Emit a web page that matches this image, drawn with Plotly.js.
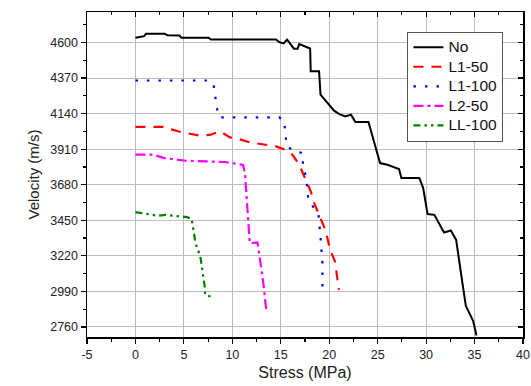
<!DOCTYPE html>
<html>
<head>
<meta charset="utf-8">
<script src="https://cdn.plot.ly/plotly-3.0.1.min.js"></script>
<style>html,body{margin:0;padding:0;background:#fff;}#chart{width:531px;height:386px;}</style>
</head>
<body>
<div id="chart"></div>
<script>
const seriesNames = ["No", "L1-50", "L1-100", "L2-50", "LL-100"];

const noX = [0, 0.9, 1.1, 3.0, 3.3, 4.55, 4.75, 7.55, 7.8, 14.5, 14.85, 15.3, 15.65, 16.35, 16.75, 16.9, 18.03, 18.09, 18.95, 19.1, 20.5, 21.0, 21.65, 22.25, 22.7, 24.05, 24.9, 25.25, 26.0, 27.2, 27.45, 29.3, 29.7, 30.15, 30.85, 31.85, 32.55, 33.1, 33.75, 34.1, 34.85, 35.2];
const noY = [4630, 4641, 4657, 4657, 4647, 4645, 4630, 4630, 4619, 4619, 4602, 4594, 4619, 4560, 4560, 4590, 4561, 4414, 4414, 4263, 4159, 4138, 4122, 4133, 4086, 4086, 3896, 3820, 3809, 3781, 3723, 3723, 3658, 3490, 3485, 3371, 3384, 3323, 3043, 2896, 2800, 2705];

const l150X = [0, 2.8, 3.8, 4.8, 6.7, 7.7, 8.75, 9.75, 10.6, 11.8, 14.5, 15.7, 16.2, 16.9, 18.1, 18.45, 19.6, 20.1, 20.6, 21.0];
const l150Y = [4054, 4054, 4036, 4019, 3997, 4002, 4025, 3986, 3976, 3954, 3928, 3900, 3874, 3809, 3636, 3561, 3388, 3259, 3183, 3000];

const l1100X = [0, 7.4, 8.05, 8.4, 8.65, 14.85, 15.35, 15.6, 16.2, 17.25, 17.3, 17.6, 17.85, 18.9, 19.1, 19.3, 19.3];
const l1100Y = [4354, 4354, 4334, 4177, 4116, 4116, 4090, 3933, 3902, 3885, 3798, 3734, 3583, 3485, 3345, 3172, 3015];

const l250X = [0, 1.8, 3.0, 5.2, 9.25, 11.1, 11.3, 11.6, 11.8, 12.6, 12.85, 13.2, 13.5];
const l250Y = [3875, 3875, 3852, 3835, 3827, 3808, 3756, 3474, 3302, 3306, 3194, 3043, 2870];

const ll100X = [0, 0.75, 1.45, 2.3, 3.1, 3.8, 5.35, 5.8, 5.95, 6.2, 6.7, 6.95, 7.15, 7.2, 8.05];
const ll100Y = [3503, 3496, 3485, 3479, 3485, 3481, 3470, 3458, 3399, 3302, 3215, 3108, 3021, 2967, 2952];

const xTickVals = [-5, 0, 5, 10, 15, 20, 25, 30, 35, 40];
const yTickVals = [2760, 2990, 3220, 3450, 3680, 3910, 4140, 4370, 4600];

const font = "Arial, 'Liberation Sans', sans-serif";
const legendName = n => '<span style="font-size:15.5px">' + n + '</span>';

const traces = [
  {x: noX, y: noY, name: legendName(seriesNames[0]), mode: 'lines', line: {color: '#000000', width: 2}},
  {x: l150X, y: l150Y, name: legendName(seriesNames[1]), mode: 'lines', line: {color: '#ff0000', width: 2.2, dash: '10px,8px'}},
  {x: l1100X, y: l1100Y, name: legendName(seriesNames[2]), mode: 'lines', line: {color: '#0000ff', width: 2.2, dash: '2.5px,9px'}},
  {x: l250X, y: l250Y, name: legendName(seriesNames[3]), mode: 'lines', line: {color: '#ff00ff', width: 2.2, dash: '10px,4px,3px,4px'}},
  {x: ll100X, y: ll100Y, name: legendName(seriesNames[4]), mode: 'lines', line: {color: '#008000', width: 2.2, dash: '7px,4px,2.5px,4px,2.5px,4px'}},
  {x: [null], y: [null], xaxis: 'x2', yaxis: 'y2', showlegend: false, hoverinfo: 'skip', mode: 'lines'}
];

const layout = {
  width: 531, height: 386,
  margin: {l: 87, r: 8, t: 12, b: 49},
  paper_bgcolor: '#ffffff', plot_bgcolor: '#ffffff',
  font: {family: font, size: 12, color: '#222'},
  showlegend: true,
  legend: {
    x: 0.735, y: 0.94, xanchor: 'left', yanchor: 'top',
    bordercolor: '#555', borderwidth: 1, bgcolor: '#ffffff',
    font: {family: font, size: 12.7, color: '#111'},
    tracegroupgap: 0, itemwidth: 30
  },
  xaxis: {
    range: [-5, 40], tickvals: xTickVals, ticktext: xTickVals.map(String),
    ticks: 'outside', ticklen: 5, tickwidth: 1.2, tickcolor: '#000', ticklabeloverflow: 'allow',
    minor: {dtick: 2.5, tick0: 0, ticks: 'outside', ticklen: 3, tickcolor: '#000', showgrid: false},
    showline: true, linecolor: '#000', linewidth: 1.5, mirror: true,
    showgrid: true, gridcolor: '#bdbdbd', gridwidth: 1, zeroline: false,
    tickfont: {family: font, size: 12.5, color: '#222'},
    title: {text: 'Stress (MPa)', font: {family: font, size: 16, color: '#222'}, standoff: 6}
  },
  yaxis: {
    range: [2695, 4797], tickvals: yTickVals, ticktext: yTickVals.map(String),
    ticks: 'outside', ticklen: 5, tickwidth: 1.2, tickcolor: '#000',
    minor: {dtick: 115, tick0: 2760, ticks: 'outside', ticklen: 3, tickcolor: '#000', showgrid: false},
    showline: true, linecolor: '#000', linewidth: 1.5, mirror: true,
    showgrid: true, gridcolor: '#bdbdbd', gridwidth: 1, zeroline: false,
    tickfont: {family: font, size: 12.5, color: '#222'},
    title: {text: 'Velocity (m/s)', font: {family: font, size: 15, color: '#222'}, standoff: 7}
  },
  xaxis2: {
    overlaying: 'x', side: 'top', anchor: 'y', range: [-5, 40], tickvals: xTickVals,
    ticks: 'inside', ticklen: 5, tickwidth: 1.2, tickcolor: '#000', showticklabels: false,
    minor: {dtick: 2.5, tick0: 0, ticks: 'inside', ticklen: 3, tickcolor: '#000', showgrid: false},
    showgrid: false, zeroline: false, showline: false
  },
  yaxis2: {
    overlaying: 'y', side: 'right', anchor: 'x', range: [2695, 4797], tickvals: yTickVals,
    ticks: 'inside', ticklen: 5, tickwidth: 1.2, tickcolor: '#000', showticklabels: false,
    minor: {dtick: 115, tick0: 2760, ticks: 'inside', ticklen: 3, tickcolor: '#000', showgrid: false},
    showgrid: false, zeroline: false, showline: false
  }
};

Plotly.newPlot('chart', traces, layout, {displayModeBar: false, staticPlot: true});
</script>
</body>
</html>
